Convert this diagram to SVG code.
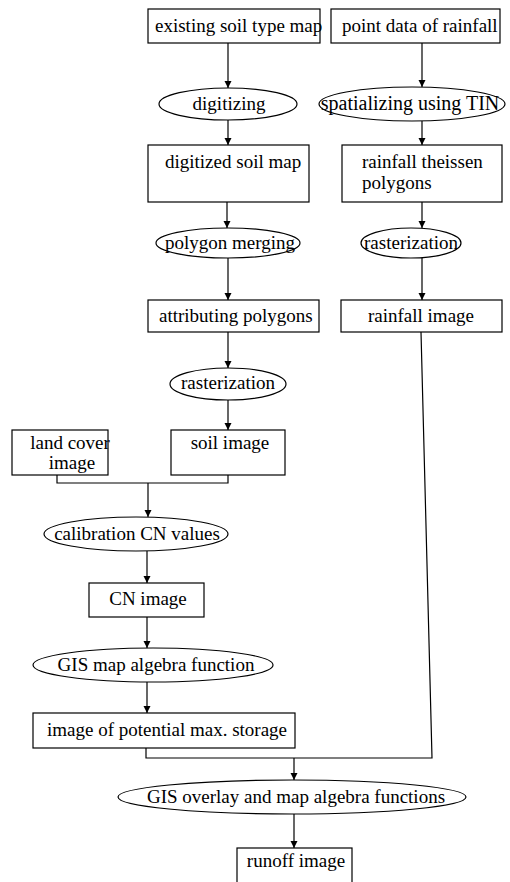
<svg xmlns="http://www.w3.org/2000/svg" width="510" height="882" viewBox="0 0 510 882" font-family="'Liberation Serif', 'Times New Roman', serif" font-size="19">
<defs>
<marker id="ah" markerWidth="8" markerHeight="8" refX="7" refY="3.5" orient="auto" markerUnits="userSpaceOnUse">
<path d="M0,0 L7,3.5 L0,7 Z" fill="#000"/>
</marker>
<style>
.n rect, .n ellipse { fill: #fff; stroke: #000; stroke-width: 1.2; }
text { font-family: 'Liberation Serif', 'Times New Roman', serif; font-size: 19px; fill: #000; }
.c { text-anchor: middle; }
.e line, .e polyline { stroke: #000; stroke-width: 1.2; fill: none; }
.a { marker-end: url(#ah); }
</style>
</defs>
<rect width="510" height="882" fill="#fff"/>
<g class="e" id="connectors">
<line class="a" x1="228" y1="43" x2="228" y2="88"/>
<line class="a" x1="422" y1="43" x2="422" y2="87"/>
<line class="a" x1="228" y1="120" x2="228" y2="145"/>
<line class="a" x1="422" y1="121" x2="422" y2="145"/>
<line class="a" x1="227" y1="202" x2="227" y2="228"/>
<line class="a" x1="422" y1="202" x2="422" y2="228"/>
<line class="a" x1="228" y1="258" x2="228" y2="300"/>
<line class="a" x1="422" y1="258" x2="422" y2="300"/>
<line class="a" x1="228" y1="332" x2="228" y2="368"/>
<line class="a" x1="228" y1="400" x2="228" y2="430"/>
<polyline points="57,475 57,483 228,483 228,475"/>
<line class="a" x1="148" y1="483" x2="148" y2="517"/>
<line class="a" x1="147" y1="551" x2="147" y2="583"/>
<line class="a" x1="147" y1="617" x2="147" y2="648"/>
<line class="a" x1="147" y1="682" x2="147" y2="713"/>
<polyline points="146,748 146,758 432,758 421,332"/>
<line class="a" x1="294" y1="758" x2="294" y2="780"/>
<line class="a" x1="294" y1="814" x2="294" y2="848"/>
</g>
<g class="n" id="existing-soil-type-map"><rect x="148" y="9" width="172" height="34"/><text x="155" y="32">existing soil type map</text></g>
<g class="n" id="point-data-of-rainfall"><rect x="331" y="9" width="169" height="34"/><text x="342" y="32">point data of rainfall</text></g>
<g class="n" id="digitizing"><ellipse cx="228" cy="104" rx="69" ry="16"/><text class="c" x="229" y="110">digitizing</text></g>
<g class="n" id="spatializing-using-tin"><ellipse cx="412" cy="104" rx="93" ry="17"/><text class="c" x="410" y="110" style="font-size:20px">spatializing using TIN</text></g>
<g class="n" id="digitized-soil-map"><rect x="148" y="145" width="161" height="57"/><text x="165" y="168">digitized soil map</text></g>
<g class="n" id="rainfall-theissen-polygons"><rect x="342" y="145" width="160" height="57"/><text x="362" y="168">rainfall theissen</text><text x="362" y="189">polygons</text></g>
<g class="n" id="polygon-merging"><ellipse cx="228" cy="243" rx="72" ry="15"/><text class="c" x="230" y="249">polygon merging</text></g>
<g class="n" id="rasterization-rain"><ellipse cx="411" cy="243" rx="50" ry="15"/><text class="c" x="411" y="249">rasterization</text></g>
<g class="n" id="attributing-polygons"><rect x="148" y="300" width="171" height="32"/><text x="159" y="322">attributing polygons</text></g>
<g class="n" id="rainfall-image"><rect x="341" y="300" width="161" height="32"/><text class="c" x="421" y="322">rainfall image</text></g>
<g class="n" id="rasterization-soil"><ellipse cx="228" cy="384" rx="58" ry="16"/><text class="c" x="228" y="389">rasterization</text></g>
<g class="n" id="land-cover-image"><rect x="12" y="430" width="96" height="45"/><text class="c" x="70" y="449">land cover</text><text class="c" x="72" y="469">image</text></g>
<g class="n" id="soil-image"><rect x="171" y="430" width="114" height="45"/><text class="c" x="230" y="449">soil image</text></g>
<g class="n" id="calibration-cn-values"><ellipse cx="136" cy="534" rx="92" ry="17"/><text class="c" x="137" y="540">calibration CN values</text></g>
<g class="n" id="cn-image"><rect x="89" y="583" width="115" height="34"/><text class="c" x="148" y="605">CN image</text></g>
<g class="n" id="gis-map-algebra-function"><ellipse cx="153" cy="665" rx="120" ry="17"/><text class="c" x="156" y="671">GIS map algebra function</text></g>
<g class="n" id="image-of-potential-max-storage"><rect x="33" y="713" width="262" height="35"/><text class="c" x="167" y="736">image of potential max. storage</text></g>
<g class="n" id="gis-overlay"><ellipse cx="292" cy="797" rx="174" ry="17"/><text class="c" x="296" y="803">GIS overlay and map algebra functions</text></g>
<g class="n" id="runoff-image"><rect x="237" y="848" width="115" height="45"/><text class="c" x="296" y="867">runoff image</text></g>
</svg>
